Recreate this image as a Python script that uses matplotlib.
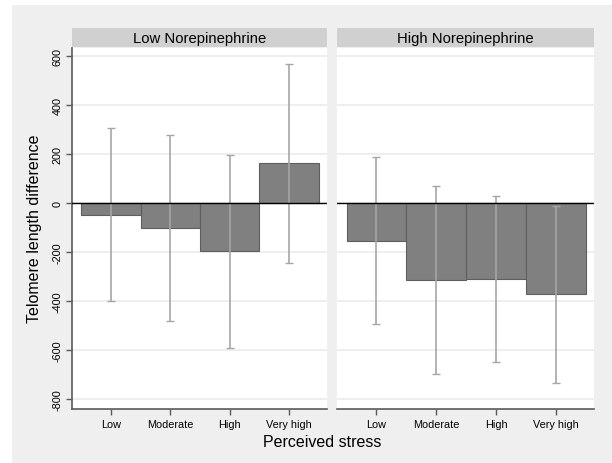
import matplotlib
matplotlib.use("Agg")
import matplotlib.pyplot as plt
from matplotlib.patches import Rectangle
import numpy as np

plt.rcParams["font.family"] = ["Liberation Sans", "DejaVu Sans"]

categories = ["Low", "Moderate", "High", "Very high"]
panels = ["Low Norepinephrine", "High Norepinephrine"]
means = {
    "Low Norepinephrine": [-48, -101, -197, 164],
    "High Norepinephrine": [-157, -313, -309, -372],
}
ci_low = {
    "Low Norepinephrine": [-402, -484, -592, -244],
    "High Norepinephrine": [-496, -698, -650, -735],
}
ci_high = {
    "Low Norepinephrine": [307, 279, 196, 567],
    "High Norepinephrine": [187, 71, 30, -11],
}
yticks = [-800, -600, -400, -200, 0, 200, 400, 600]

W, H = 612, 464
fig = plt.figure(figsize=(W / 100, H / 100), dpi=100, facecolor="white")
# light gray graph region (Stata style)
fig.patches.append(Rectangle((12 / W, 0), 1 - 12 / W, 1 - 6 / H,
                             transform=fig.transFigure, facecolor="#efefef",
                             edgecolor="none", zorder=-10))

BAR = "#808080"
EDGE = "#5e5e5e"
ERR = "#a6a6a6"
AXC = "#5a5a5a"

lefts = [72, 337]
widths = [255, 257]
top_px, bot_px = 49, 410

x = np.arange(1, len(categories) + 1)

for i, name in enumerate(panels):
    l, w = lefts[i], widths[i]
    ax = fig.add_axes([l / W, 1 - bot_px / H, w / W, (bot_px - top_px) / H])
    ax.set_facecolor("white")
    m = np.array(means[name])
    lo = m - np.array(ci_low[name])
    hi = np.array(ci_high[name]) - m
    ax.bar(x, m, width=1.0, color=BAR, edgecolor=EDGE, linewidth=0.8, zorder=2)
    ax.errorbar(x, m, yerr=[lo, hi], fmt="none", ecolor=ERR, elinewidth=1.2,
                capsize=3, capthick=1.0, zorder=3)
    ax.axhline(0, color="black", lw=1.0, zorder=4)
    ax.set_xlim(0.34, 4.64)
    ax.set_ylim(-842, 634)
    ax.set_yticks(yticks)
    for yv in yticks:
        ax.axhline(yv, color="#ebebeb", lw=1.2, zorder=0)
    ax.set_xticks(x)
    ax.set_xticklabels(categories, fontsize=7.8)
    ax.tick_params(axis="x", length=4, width=1, color=AXC, pad=3)
    for s in ("top", "right"):
        ax.spines[s].set_visible(False)
    ax.spines["bottom"].set_color(AXC)
    ax.spines["bottom"].set_linewidth(1.2)
    if i == 0:
        ax.spines["left"].set_color(AXC)
        ax.spines["left"].set_linewidth(1.2)
        ax.set_yticklabels([str(t) for t in yticks], fontsize=7.8,
                           rotation=90, va="center")
        ax.tick_params(axis="y", length=4, width=1, color=AXC, pad=3)
    else:
        ax.spines["left"].set_visible(False)
        ax.set_yticks([])
    # strip title
    sax = fig.add_axes([l / W, 1 - 48 / H, w / W, 19 / H])
    sax.set_facecolor("#d0d0d0")
    sax.set_xticks([])
    sax.set_yticks([])
    for s in sax.spines.values():
        s.set_visible(False)
    sax.text(0.5, 0.45, name, ha="center", va="center", fontsize=10.7,
             transform=sax.transAxes)

fig.text(35 / W, 1 - 229 / H, "Telomere length difference", rotation=90,
         ha="center", va="center", fontsize=11.5)
fig.text(322 / W, 1 - 443 / H, "Perceived stress", ha="center", va="center",
         fontsize=11.5)

fig.savefig("out.png", dpi=100)
